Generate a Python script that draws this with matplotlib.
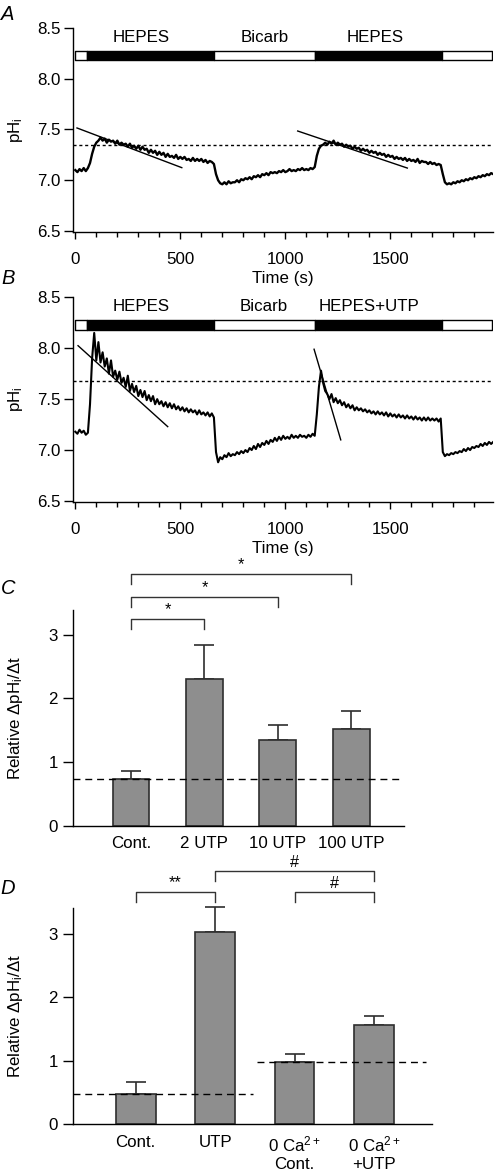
import matplotlib
matplotlib.use("Agg")
import matplotlib.pyplot as plt
import numpy as np
from matplotlib.ticker import MultipleLocator

W, H = 496, 1171

# pH_i traces, one sample every 10 s
trace_t = np.arange(0, 2000, 10)
trace_a = [
    7.10, 7.08, 7.11, 7.09, 7.12, 7.09,
    7.12, 7.17, 7.26, 7.33, 7.37, 7.39, 7.42,
    7.39, 7.41, 7.37, 7.40, 7.38, 7.39, 7.36, 7.39,
    7.35, 7.37, 7.35, 7.36, 7.33, 7.36, 7.32, 7.34, 7.31, 7.34,
    7.30, 7.33, 7.30, 7.31, 7.27, 7.30, 7.27, 7.29, 7.25, 7.28,
    7.25, 7.27, 7.23, 7.26, 7.23, 7.24, 7.22, 7.25, 7.21, 7.23,
    7.21, 7.23, 7.20, 7.21, 7.19, 7.22, 7.19, 7.21, 7.19, 7.21,
    7.18, 7.20, 7.17, 7.19, 7.18, 7.16,
    7.06, 7.00, 6.97, 6.96,
    6.98, 6.96, 6.99, 6.97, 6.98, 6.98, 7.00, 6.98, 7.01, 7.00,
    7.02, 7.01, 7.03, 7.01, 7.04, 7.03, 7.05, 7.03, 7.06, 7.05,
    7.07, 7.05, 7.08, 7.07, 7.08, 7.07, 7.09, 7.08, 7.10, 7.08,
    7.09, 7.11, 7.09, 7.10, 7.09, 7.11, 7.10, 7.12, 7.10, 7.11,
    7.10, 7.12, 7.11, 7.13,
    7.24, 7.31, 7.34, 7.35, 7.37, 7.35,
    7.38, 7.36, 7.39, 7.35, 7.37, 7.35, 7.36, 7.33, 7.35, 7.33,
    7.34, 7.31, 7.33, 7.31, 7.32, 7.29, 7.31, 7.29, 7.30, 7.27,
    7.29, 7.27, 7.28, 7.25, 7.27, 7.25, 7.26, 7.23, 7.25, 7.23,
    7.24, 7.21, 7.23, 7.21, 7.22, 7.20, 7.22, 7.19, 7.21, 7.19,
    7.20, 7.18, 7.21, 7.17, 7.19, 7.18, 7.18, 7.16, 7.18, 7.16,
    7.17, 7.15, 7.16, 7.15,
    7.06, 6.98, 6.96, 6.97, 6.96,
    6.98, 6.97, 6.99, 6.98, 7.00, 6.99, 7.01, 7.00, 7.02, 7.01, 7.03,
    7.02, 7.04, 7.03, 7.05, 7.04, 7.06, 7.05, 7.07, 7.06,
]
trace_b = [
    7.18, 7.16, 7.20, 7.17, 7.19, 7.15, 7.17,
    7.45, 7.90, 8.15, 7.88,
    8.06, 7.86, 7.96, 7.82, 7.90, 7.75, 7.88, 7.72, 7.78, 7.69,
    7.77, 7.66, 7.71, 7.62, 7.73, 7.58, 7.65, 7.57, 7.63, 7.53,
    7.59, 7.52, 7.58, 7.49, 7.54, 7.48, 7.53, 7.45, 7.50, 7.45,
    7.48, 7.43, 7.47, 7.42, 7.46, 7.41, 7.45, 7.40, 7.43, 7.39,
    7.42, 7.38, 7.41, 7.37, 7.40, 7.37, 7.39, 7.35, 7.39, 7.35,
    7.37, 7.34, 7.37, 7.33, 7.36, 7.32,
    6.98, 6.88, 6.93, 6.91,
    6.95, 6.93, 6.97, 6.94, 6.96, 6.95, 6.98, 6.96, 6.99, 6.97,
    7.00, 6.98, 7.02, 7.00, 7.04, 7.01, 7.06, 7.03, 7.07, 7.05,
    7.09, 7.06, 7.10, 7.08, 7.12, 7.09, 7.13, 7.10, 7.14, 7.11,
    7.13, 7.11, 7.15, 7.12, 7.14, 7.12, 7.15, 7.13, 7.14, 7.12,
    7.15, 7.13, 7.16, 7.14,
    7.35, 7.62, 7.78, 7.66, 7.58, 7.55,
    7.50, 7.55, 7.47, 7.51, 7.46, 7.49, 7.44, 7.47, 7.42, 7.45,
    7.41, 7.44, 7.39, 7.42, 7.39, 7.41, 7.38, 7.40, 7.37, 7.39,
    7.36, 7.38, 7.35, 7.38, 7.35, 7.37, 7.34, 7.37, 7.33, 7.36,
    7.33, 7.35, 7.32, 7.35, 7.32, 7.34, 7.31, 7.34, 7.31, 7.33,
    7.30, 7.33, 7.30, 7.32, 7.29, 7.32, 7.29, 7.32, 7.29, 7.31,
    7.29, 7.31, 7.28, 7.31,
    6.98, 6.94, 6.96, 6.95, 6.97, 6.96,
    6.98, 6.97, 6.99, 6.98, 7.01, 6.99, 7.02, 7.00, 7.03, 7.02,
    7.04, 7.03, 7.06, 7.04, 7.07, 7.05, 7.08, 7.06, 7.08,
]

# solution protocol bar
protocol_edges = [0, 56, 661, 1142, 1747, 1985]
protocol_fill = ["white", "black", "white", "black", "white"]
sol_labels_a = ["HEPES", "Bicarb", "HEPES"]
sol_t_a = [316, 903, 1427]
sol_labels_b = ["HEPES", "Bicarb", "HEPES+UTP"]
sol_t_b = [316, 895, 1400]

# slope fits drawn over the traces: (t0, pH0, t1, pH1)
fits_a = [(8, 7.515, 507, 7.124), (1059, 7.485, 1581, 7.12)]
fits_b = [(13, 8.025, 440, 7.23), (1137, 7.99, 1264, 7.10)]
ref_a = 7.347
ref_b = 7.68

# bar charts
c_labels = ["Cont.", "2 UTP", "10 UTP", "100 UTP"]
c_mean = [0.73, 2.31, 1.34, 1.52]
c_sem = [0.125, 0.53, 0.24, 0.28]
c_sig = [(0, 1, 3.25, "*"), (0, 2, 3.59, "*"), (0, 3, 3.95, "*")]

d_labels = ["Cont.", "UTP", "0 Ca$^{2+}$\nCont.", "0 Ca$^{2+}$\n+UTP"]
d_mean = [0.477, 3.02, 0.986, 1.564]
d_sem = [0.19, 0.40, 0.12, 0.14]
d_sig = [(0, 1, 3.65, "**"), (1, 3, 3.98, "#"), (2, 3, 3.65, "#")]

FS = 12.2
plt.rcParams["font.family"] = ["Liberation Sans", "DejaVu Sans"]
plt.rcParams["mathtext.fontset"] = "custom"
plt.rcParams["mathtext.rm"] = "Liberation Sans"
plt.rcParams["mathtext.it"] = "Liberation Sans:italic"
plt.rcParams["mathtext.default"] = "regular"
plt.rcParams["axes.linewidth"] = 1.0

fig = plt.figure(figsize=(W / 100, H / 100), dpi=100)


def px_axes(x0, y0, x1, y1):
    # pixel box (left, top, right, bottom) -> figure axes
    return fig.add_axes([x0 / W, 1 - y1 / H, (x1 - x0) / W, (y1 - y0) / H])


def style(ax):
    for side in ("top", "right"):
        ax.spines[side].set_visible(False)
    ax.tick_params(labelsize=FS, direction="out", width=1.0)


def trace_panel(ax, values, sol_labels, sol_t, fits, ref, lw):
    style(ax)
    ax.plot(trace_t, values, color="black", lw=lw)
    for t0, p0, t1, p1 in fits:
        ax.plot([t0, t1], [p0, p1], color="black", lw=1.0)
    ax.axhline(ref, color="black", lw=1.0, dashes=(2.2, 2.0))
    segs = [(a, b - a) for a, b in zip(protocol_edges[:-1], protocol_edges[1:])]
    ax.broken_barh(segs, (8.18, 0.095), facecolors=protocol_fill,
                   edgecolor="black", lw=1.0)
    for lab, t in zip(sol_labels, sol_t):
        ax.text(t, 8.41, lab, ha="center", va="center", fontsize=FS)
    ax.set_xlim(-11, 1989)
    ax.set_ylim(6.49, 8.5)
    ax.set_yticks([6.5, 7.0, 7.5, 8.0, 8.5])
    ax.set_xticks([0, 500, 1000, 1500])
    ax.xaxis.set_minor_locator(MultipleLocator(100))
    ax.tick_params(axis="x", which="major", length=5, pad=9.5)
    ax.tick_params(axis="x", which="minor", length=3.5, width=1.0)
    ax.tick_params(axis="y", length=6.5, pad=2.5)
    ax.set_xlabel("Time (s)", fontsize=FS)
    ax.xaxis.set_label_coords(0.5, -0.19)
    ax.set_ylabel("pH$_\\mathregular{i}$", fontsize=FS)
    ax.yaxis.set_label_coords((25 - 73) / 420, 0.5)


def bar_panel(ax, labels, mean, sem, sig, width_px):
    style(ax)
    x = np.arange(len(labels))
    ax.bar(x, mean, width=0.5, color="#8e8e8e", edgecolor="#2e2e2e", lw=1.2,
           zorder=2)
    eb = ax.errorbar(x, mean, yerr=[np.zeros(len(sem)), sem], fmt="none",
                     ecolor="#2e2e2e", elinewidth=1.2, capsize=7,
                     capthick=1.2, zorder=1)
    for art in eb.lines[1] + eb.lines[2]:
        art.set_clip_on(False)
    for i, j, y, s in sig:
        ax.plot([i, i, j, j], [y - 0.155, y, y, y - 0.155], color="#333333",
                lw=1.0, clip_on=False)
        ax.text((i + j) / 2, y + 0.03, s, ha="center", va="bottom",
                fontsize=FS - 0.5, clip_on=False)
    ax.set_xticks(x)
    ax.set_xticklabels(labels, fontsize=FS)
    ax.tick_params(axis="x", length=0, pad=7.5)
    ax.set_yticks([0, 1, 2, 3])
    ax.tick_params(axis="y", length=7, pad=4)
    ax.set_ylabel("Relative $\\Delta$pH$_\\mathregular{i}$/$\\Delta$t",
                  fontsize=FS)
    ax.yaxis.set_label_coords((25 - 73) / width_px, 0.5)


ax_a = px_axes(73, 28, 493, 232)
trace_panel(ax_a, trace_a, sol_labels_a, sol_t_a, fits_a, ref_a, 1.7)

ax_b = px_axes(73, 297.3, 493, 502)
trace_panel(ax_b, trace_b, sol_labels_b, sol_t_b, fits_b, ref_b, 1.5)

ax_c = px_axes(73, 610, 404, 825.7)
bar_panel(ax_c, c_labels, c_mean, c_sem, c_sig, 331)
ax_c.set_xlim(-0.79, 3.72)
ax_c.set_ylim(0, 3.39)
ax_c.axhline(c_mean[0], color="black", lw=1.0, dashes=(5, 3.5), zorder=3)

ax_d = px_axes(73, 908.3, 432, 1124.3)
bar_panel(ax_d, d_labels, d_mean, d_sem, d_sig, 359)
ax_d.set_xlim(-0.79, 3.73)
ax_d.set_ylim(0, 3.40)
ax_d.hlines(d_mean[0], -0.79, 1.47, color="black", lw=1.0,
            linestyles=(0, (5, 3.5)), zorder=3)
ax_d.hlines(d_mean[2], 1.53, 3.66, color="black", lw=1.0,
            linestyles=(0, (5, 3.5)), zorder=3)

for letter, ypx in zip("ABCD", [14, 279, 589, 889]):
    fig.text(8 / W, 1 - ypx / H, letter, ha="center", va="center",
             fontsize=14.5, style="italic")

fig.savefig("out.png", dpi=100)
